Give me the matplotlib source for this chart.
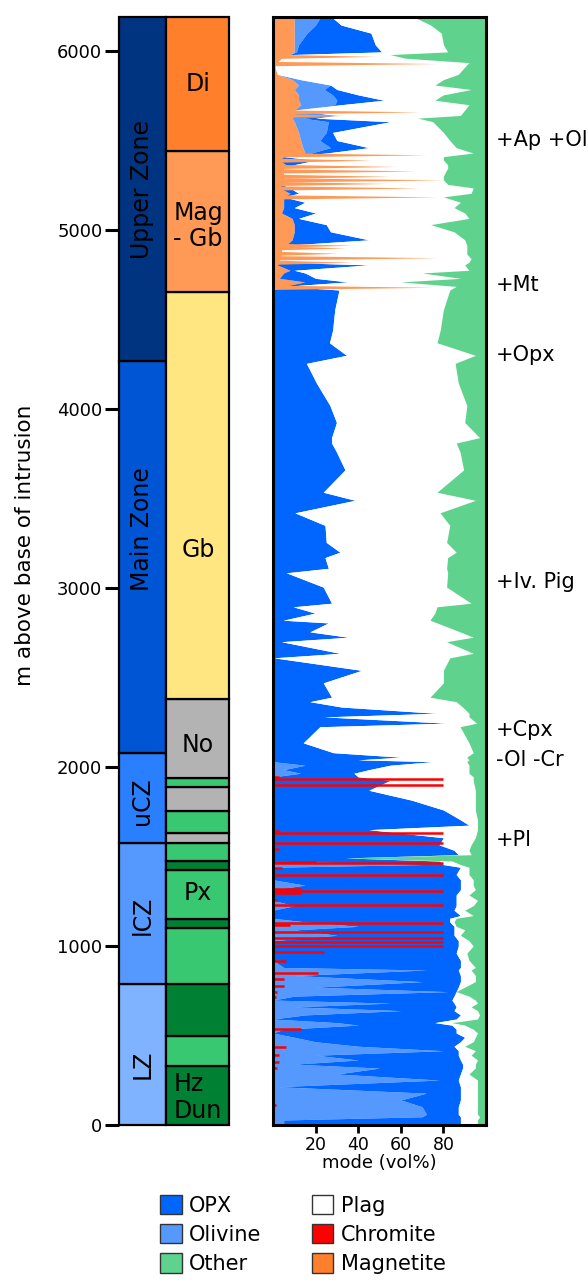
import numpy as np
import matplotlib
matplotlib.use("Agg")
import matplotlib.pyplot as plt
from matplotlib.patches import Patch

plt.rcParams['font.family'] = ['DejaVu Sans']

# ---------------- stratigraphy ----------------
zone_names = ['LZ', 'lCZ', 'uCZ', 'Main Zone', 'Upper Zone']
zone_bottom = [0, 790, 1577, 2077, 4268]
zone_top = [790, 1577, 2077, 4268, 6190]
zone_colors = ['#80b3ff', '#5599ff', '#2a7fff', '#0055d4', '#003380']
zone_label_depth = [340, 1173, 1811, 3330, 5229]

rock_bottom = [0, 330, 495, 785, 1102, 1150, 1422, 1475, 1578, 1630, 1755, 1888, 1940, 2380, 4655, 5440]
rock_top = [330, 495, 785, 1102, 1150, 1422, 1475, 1578, 1630, 1755, 1888, 1940, 2380, 4655, 5440, 6190]
rock_colors = ['#008033', '#37c871', '#008033', '#37c871', '#008033', '#37c871', '#008033', '#37c871',
               '#b3b3b3', '#37c871', '#b3b3b3', '#37c871', '#b3b3b3', '#ffe680', '#ff9955', '#ff7f2a']
rock_label_text = ['Hz\nDun', 'Px', 'No', 'Gb', 'Mag\n- Gb', 'Di']
rock_label_depth = [154, 1296, 2123, 3212, 5022, 5815]

# ---------------- modal profile (vol%) ----------------
depth = [6185, 6145, 6100, 6035, 5995, 5980, 5960, 5935, 5910, 5870, 5840, 5810, 5785, 5755, 5725, 5700,
         5670, 5640, 5625, 5605, 5545, 5500, 5460, 5430, 5410, 5390, 5365, 5345, 5325, 5300, 5280, 5255,
         5235, 5205, 5185, 5155, 5125, 5095, 5065, 5030, 4990, 4945, 4915, 4890, 4865, 4840, 4820, 4805,
         4775, 4760, 4730, 4710, 4685, 4665,
         4555, 4440, 4370, 4300, 4255, 4145, 4020, 3925, 3840, 3810, 3760, 3660, 3535, 3490, 3420, 3350,
         3255, 3200, 3170, 3110, 3085, 3005, 2915, 2895, 2860, 2820, 2805, 2755, 2725, 2700, 2635, 2610,
         2540, 2470, 2390, 2365, 2335, 2300, 2280, 2245, 2225, 2135, 2080, 2055, 2040, 2030,
         2010, 1985, 1965, 1945, 1925, 1870, 1815, 1760, 1705, 1675, 1650, 1605, 1565, 1535, 1510, 1492,
         1475, 1455, 1440, 1400, 1370, 1340, 1315, 1285, 1255, 1225, 1200, 1170, 1155, 1135, 1110, 1090,
         1060, 1030,
         1000, 960, 920, 880, 866, 835, 801, 770, 745, 720, 698, 681, 660, 639, 615, 592, 572, 558, 535,
         514, 490, 465, 440, 415, 390, 363, 340, 318, 285, 251, 214, 178, 140, 102, 60, 46, 28, 5]

magnetite = [10, 10, 10, 10, 10, 8, 4, 2, 1, 2, 9, 12, 10, 12, 12, 13,
             10, 10, 9, 10, 12, 13, 14, 15, 5, 3, 6, 5, 5, 5, 4, 4,
             3, 8, 5, 5, 5, 4, 9, 10, 10, 9, 6, 4, 4, 3, 3, 2,
             8, 5, 3, 15, 5, 0,
             0, 0, 0, 0, 0, 0, 0, 0, 0, 0, 0, 0, 0, 0, 0, 0,
             0, 0, 0, 0, 0, 0, 0, 0, 0, 0, 0, 0, 0, 0, 0, 0,
             0, 0, 0, 0, 0, 0, 0, 0, 0, 0, 0, 0, 0, 0,
             0, 0, 0, 0, 0, 0, 0, 0, 0, 0, 0, 0, 0, 0, 0, 0,
             0, 0, 0, 0, 0, 0, 0, 0, 0, 0, 0, 0, 0, 0, 0, 0,
             0, 0,
             0, 0, 0, 0, 0, 0, 0, 0, 0, 0, 0, 0, 0, 0, 0, 0, 0, 0, 0,
             0, 0, 0, 0, 0, 0, 0, 0, 0, 0, 0, 0, 0, 0, 0, 0, 0, 0, 0]

olivine = [12, 10, 6, 2, 1, 0, 0, 0, 0, 0, 4, 15, 14, 16, 18, 16,
           0, 20, 5, 16, 13, 9, 13, 3, 0, 0, 0, 0, 0, 0, 0, 0,
           0, 0, 0, 0, 0, 0, 0, 0, 0, 0, 0, 0, 0, 0, 0, 0,
           0, 0, 0, 0, 0, 0,
           0, 0, 0, 0, 0, 0, 0, 0, 0, 0, 0, 0, 0, 0, 0, 0,
           0, 0, 0, 0, 0, 0, 0, 0, 0, 0, 0, 0, 0, 0, 0, 0,
           0, 0, 0, 0, 0, 0, 0, 0, 0, 0, 0, 0, 0, 0,
           15, 5, 13, 0, 0, 0, 0, 0, 0, 0, 0, 0, 0, 0, 0, 0,
           0, 70, 0, 0, 0, 15, 0, 0, 0, 10, 0, 0, 0, 15, 40, 10,
           30, 0,
           0, 0, 0, 5, 72, 10, 70, 20, 82, 10, 0, 55, 10, 60, 15, 0, 30, 40, 5,
           0, 10, 20, 40, 80, 20, 40, 10, 50, 30, 78, 2, 72, 60, 70, 72, 70, 5, 5]

opx = [6, 12, 30, 36, 40, 0, 0, 0, 0, 0, 0, 0, 6, 12, 22, 3,
       0, 0, 6, 29, 3, 8, 18, 7, 0, 17, 4, 0, 0, 0, 0, 0,
       5, 4, 0, 10, 5, 16, 3, 15, 17, 36, 0, 0, 0, 0, 0, 43,
       2, 10, 17, 20, 0, 31,
       29, 28, 26.5, 34.5, 15.7, 20.4, 26.7, 29.8, 27.5, 27.5, 29.8, 33.8, 23.6, 38.5, 10.3, 24.4,
       25, 31.4, 24.4, 26, 6.3, 23.6, 27.5, 9.5, 19.7, 4.8, 26, 17.3, 35.3, 4, 31.4, 0.5,
       41.6, 23.6, 27.5, 17.3, 32.2, 76.8, 24, 81.5, 22, 14.2, 28.3, 60, 40, 75,
       40, 40, 25, 40, 55, 45, 65, 80, 88, 92, 45, 80, 78, 85, 87, 34,
       78, 10, 88, 86, 88, 73, 88, 86, 86, 76, 85, 88, 83, 68, 45, 75,
       55, 87,
       87, 86, 88, 83, 15, 78, 18, 67, 4, 75, 84, 30, 76, 25, 73, 86, 46, 44, 81,
       86, 80, 68, 45, 7, 67, 48, 79, 39, 58, 9, 86, 16, 28, 17, 15, 18, 83, 83]

other = [33, 26, 21, 20, 18, 45, 38, 8, 10, 13, 20, 24, 7, 20, 24, 8,
         10, 12, 32, 25, 20, 17, 14, 6, 20, 20, 18, 18, 19, 20, 20, 18,
         6, 7, 20, 12, 15, 10, 8, 26, 15, 10, 9, 9, 9, 7, 8, 10,
         8, 30, 12, 40, 14, 17,
         20, 21.5, 23, 5, 14.5, 13, 9, 10, 3, 14, 12.2, 10.5, 23, 5, 21.6, 17,
         18.5, 14, 18, 18.5, 18, 18.5, 7, 23, 24, 26.3, 23, 12.2, 6, 18.5, 6, 17,
         20, 20, 26.3, 14, 11, 8, 8, 4.4, 12.2, 8, 6, 9, 8, 9,
         8, 8, 8, 6, 6, 5, 5, 5, 4, 4, 4, 5, 7, 8, 7, 66,
         16, 12, 8, 8, 6, 6, 5, 8, 4, 6, 10, 6, 14, 15, 14, 10,
         12, 8,
         6, 9, 8, 5, 7, 5, 5, 10, 14, 8, 5, 4, 7, 4, 3, 4, 16, 10, 6,
         4, 5, 6, 10, 5, 7, 4, 5, 5, 8, 4, 4, 4, 4, 4, 4, 3, 4, 4]

# thin magnetite-rich layers (upper zone)
mag_layer_depth = [5970, 5930, 5660, 5640, 5420, 5390, 5355, 5330, 5300, 5280, 5260, 5235, 5185,
                   4915, 4900, 4870, 4845, 4820, 4680]
mag_layer = [48, 77, 69, 33, 72, 46, 58, 67, 55, 80, 53, 69, 77,
             37, 34, 30, 77, 37, 75]

chromite_depth = [1944, 1933, 1899, 1642, 1631, 1575, 1542, 1469, 1464, 1436, 1397, 1318, 1307, 1296,
                  1257, 1229, 1128, 1117, 1078, 1045, 1022, 1000, 966, 916, 849, 816, 777, 743, 715,
                  536, 436, 391, 352, 318, 112]
chromite = [3, 80, 80, 3, 80, 80, 3, 20, 80, 4, 80, 13, 80, 13,
            2, 80, 80, 8, 80, 80, 80, 80, 24, 6, 21, 5, 5, 2, 1.5,
            13, 6, 3, 3, 2, 1.5]

annot_text = ['+Ap +Ol', '+Mt', '+Opx', '+Iv. Pig', '+Cpx', '-Ol -Cr', '+Pl']
annot_depth = [5503, 4693, 4302, 3034, 2207, 2039, 1592]

legend_labels = ['OPX', 'Olivine', 'Other', 'Plag', 'Chromite', 'Magnetite']
legend_colors = ['#0066ff', '#5599ff', '#5fd38d', '#ffffff', '#ff0000', '#ff7f2a']

# ---------------- figure ----------------
W, H = 588, 1288
fig = plt.figure(figsize=(W / 100, H / 100), dpi=100)

ybot = 1 - 1125 / H
yh = 1108 / H
ax1 = fig.add_axes([119 / W, ybot, 109.5 / W, yh])
ax2 = fig.add_axes([273 / W, ybot, 213 / W, yh])

YMAX = 6190
# left strat columns
zone_w, rock_w = 46.5, 63.0
for b, t, c in zip(zone_bottom, zone_top, zone_colors):
    ax1.bar(zone_w / 2, t - b, bottom=b, width=zone_w, color=c, edgecolor='black',
            linewidth=1.6, clip_on=False)
for b, t, c in zip(rock_bottom, rock_top, rock_colors):
    ax1.bar(zone_w + rock_w / 2, t - b, bottom=b, width=rock_w, color=c, edgecolor='black',
            linewidth=1.6, clip_on=False)
for name, d in zip(zone_names, zone_label_depth):
    ax1.text(zone_w / 2, d, name, rotation=90, ha='center', va='center', fontsize=17, color='black')
for name, d in zip(rock_label_text, rock_label_depth):
    ax1.text(zone_w + rock_w / 2 + 1, d, name, ha='center', va='center', fontsize=17,
             multialignment='left', linespacing=1.15)
ax1.set_xlim(0, zone_w + rock_w)
ax1.set_ylim(0, YMAX)
for s in ax1.spines.values():
    s.set_visible(False)
ax1.set_xticks([])
ax1.set_yticks([0, 1000, 2000, 3000, 4000, 5000, 6000])
ax1.tick_params(axis='y', length=10, width=2.2, labelsize=13, pad=2, direction='out')
fig.text(25 / W, 1 - 545 / H, 'm above base of intrusion', rotation=90, ha='center', va='center',
         fontsize=15.5)

# right modal profile
d = np.array(depth, dtype=float)
mag = np.array(magnetite, dtype=float)
ol = np.array(olivine, dtype=float)
px = np.array(opx, dtype=float)
oth = np.array(other, dtype=float)
c1 = mag
c2 = c1 + ol
c3 = c2 + px
c4 = 100 - oth
kw = dict(linewidth=0, antialiased=True)
ax2.fill_betweenx(d, 0, c1, color='#ff9955', **kw)
ax2.fill_betweenx(d, c1, c2, color='#5599ff', **kw)
ax2.fill_betweenx(d, c2, c3, color='#0066ff', **kw)
ax2.fill_betweenx(d, c3, c4, color='white', **kw)
ax2.fill_betweenx(d, c4, 100, color='#5fd38d', **kw)

# thin magnetite layers: tapered wedges
half = 12.0
for dd, v in zip(mag_layer_depth, mag_layer):
    ax2.fill_betweenx([dd - half, dd, dd + half], 0, [0, v, 0], color='#ff9955', **kw)

ax2.hlines(chromite_depth, 0, chromite, color='#ff0000', linewidth=1.8)

ax2.set_xlim(0, 100)
ax2.set_ylim(0, YMAX)
ax2.set_yticks([])
ax2.set_xticks([20, 40, 60, 80])
ax2.tick_params(axis='x', length=6, width=2, labelsize=12.5, pad=2)
for s in ax2.spines.values():
    s.set_linewidth(2.2)
    s.set_color('black')
ax2.set_xlabel('mode (vol%)', fontsize=13, labelpad=0)
for txt, dd in zip(annot_text, annot_depth):
    ax2.text(104.7, dd, txt, fontsize=15, ha='left', va='center', clip_on=False)

handles = [Patch(facecolor=c, edgecolor='#333333', linewidth=1.0) for c in legend_colors]
fig.legend(handles, legend_labels, loc='upper left', bbox_to_anchor=(160 / W, 1 - 1195 / H),
           ncol=2, frameon=False, fontsize=15, handlelength=1.05, handleheight=1.05,
           handletextpad=0.35, columnspacing=2.4, labelspacing=0.4, borderpad=0,
           borderaxespad=0)

fig.savefig('out.png', dpi=100)
